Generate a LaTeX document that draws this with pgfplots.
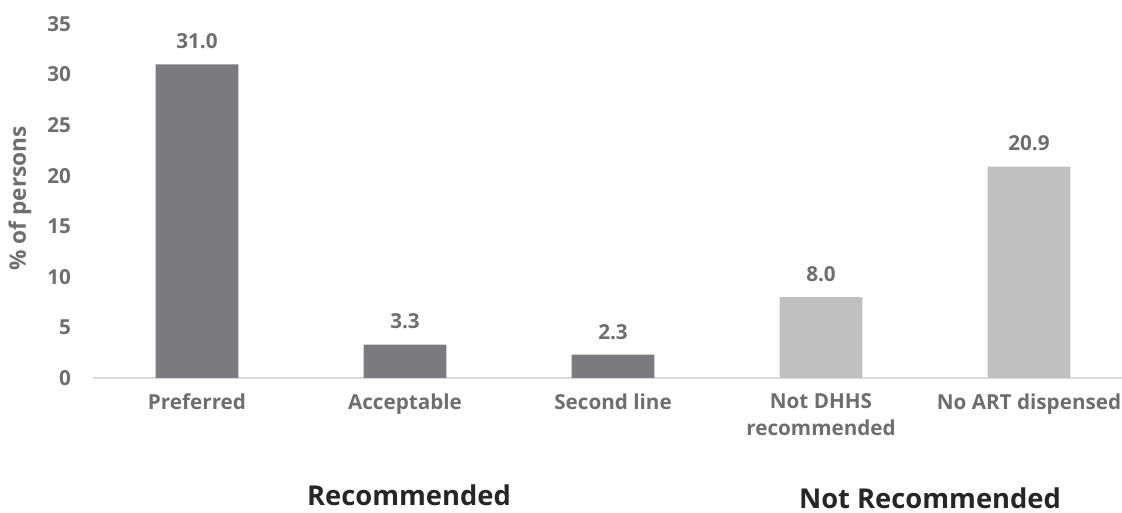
\documentclass[border=0pt]{standalone}
\usepackage{pgfplots}
\pgfplotsset{compat=1.18}
\usepackage{fontspec}
\setmainfont{Open Sans}
\definecolor{darkbar}{HTML}{7A7B7F}
\definecolor{lightbar}{HTML}{BFC0C2}
\definecolor{txt}{HTML}{6E6E70}
\definecolor{axl}{HTML}{D9D9D9}
\begin{document}
\begin{tikzpicture}
\path[use as bounding box] (0,0) rectangle (841.5pt,384.75pt);
\begin{axis}[
  at={(69.75pt,101.25pt)}, anchor=south west,
  scale only axis, width=771.75pt, height=265.5pt,
  xmin=-0.5, xmax=4.447, ymin=0, ymax=35,
  axis x line*=bottom, axis y line*=left,
  x axis line style={axl, line width=1.5pt, -},
  y axis line style={draw=none},
  ytick={0,5,...,35}, xtick={0,1,2,3,4},
  xticklabels={Preferred,Acceptable,Second line,Not DHHS\\recommended,No ART dispensed},
  xticklabel style={align=center, font=\bfseries\fontsize{15.5}{20}\selectfont, text=txt, yshift=-8pt},
  major tick length=0pt,
  yticklabel style={font=\bfseries\fontsize{15.5}{18}\selectfont, text=txt, xshift=-13pt},
  /pgf/number format/assume math mode=true,
  enlargelimits=false,
  clip=false,
  ybar, bar width=62pt, bar shift=0pt,
  nodes near coords, point meta=explicit symbolic,
  every node near coord/.append style={font=\bfseries\fontsize{15.5}{18}\selectfont, text=txt, yshift=8pt},
]
\addplot[fill=darkbar, draw=none] coordinates {(0,31.0)[31.0] (1,3.3)[3.3] (2,2.3)[2.3]};
\addplot[fill=lightbar, draw=none] coordinates {(3,8.0)[8.0] (4,20.9)[20.9]};
\end{axis}
\node[rotate=90, font=\bfseries\fontsize{17}{20}\selectfont, text=txt] at (15pt,236pt) {\% of persons};
\node[font=\bfseries\fontsize{20.5}{24}\selectfont, text=black!85] at (306.75pt,13pt) {Recommended};
\node[font=\bfseries\fontsize{20.5}{24}\selectfont, text=black!85] at (697.5pt,11pt) {Not Recommended};
\end{tikzpicture}
\end{document}
